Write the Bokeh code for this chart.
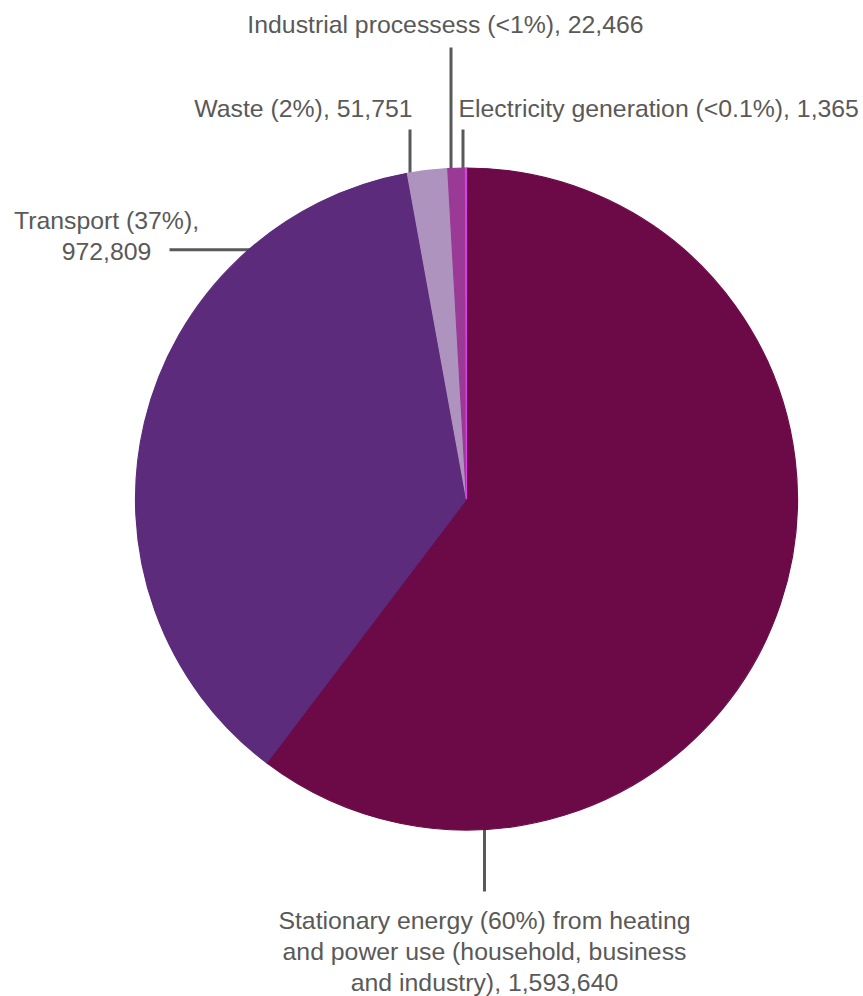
import numpy as np
from bokeh.plotting import figure
from bokeh.models import Range1d, Label, ColumnDataSource
from bokeh.embed import file_html
from bokeh.resources import INLINE

# ---- data ----
categories = ["Stationary energy", "Transport", "Waste", "Industrial processess", "Electricity generation"]
emissions = [1593640, 972809, 51751, 22466, 1365]
colors = ["#6C0A48", "#5C2B7B", "#AF93BF", "#9A3996", "#D842E2"]
label_lines = [
    ["Stationary energy (60%) from heating", "and power use (household, business", "and industry), 1,593,640"],
    ["Transport (37%),", "972,809"],
    ["Waste (2%), 51,751"],
    ["Industrial processess (<1%), 22,466"],
    ["Electricity generation (<0.1%), 1,365"],
]

# ---- layout (pixel coordinates, image space) ----
W, H = 863, 996
def X(xi): return xi
def Y(yi): return H - yi

TEXT_SHIFT = -9  # correct for renderer baseline placement
cx, cy, R = X(466), Y(498.5), 331
# label anchor: (x, first baseline y, align, line spacing)
label_pos = [
    (484, 929, "center", 31),
    (106, 229, "center", 31),
    (412, 117, "right", 31),
    (445, 33, "center", 31),
    (458, 117, "left", 31),
]
# leader lines: (x0, y0, x1, y1)
leaders = [
    (484, 820, 484, 891),
    (169, 249.3, 260, 249.3),
    (409.5, 129, 409.5, 180),
    (450.5, 47, 450.5, 180),
    (462.5, 129, 462.5, 180),
]

vals = np.array(emissions, dtype=float)
frac = vals / vals.sum()
cum = np.concatenate([[0.0], np.cumsum(frac)])
start = np.pi / 2 - cum[:-1] * 2 * np.pi
end = np.pi / 2 - cum[1:] * 2 * np.pi

p = figure(width=W, height=H, output_backend="svg", toolbar_location=None,
           x_range=Range1d(0, W), y_range=Range1d(0, H), min_border=0,
           outline_line_color=None)
p.axis.visible = False
p.grid.visible = False
p.background_fill_color = "white"
p.border_fill_color = "white"

# leader lines (drawn beneath the pie)
p.segment(x0=[X(l[0]) for l in leaders], y0=[Y(l[1]) for l in leaders],
          x1=[X(l[2]) for l in leaders], y1=[Y(l[3]) for l in leaders],
          line_color="#595959", line_width=3)

src = ColumnDataSource(dict(cat=categories, start=start, end=end, color=colors))
p.wedge(x=cx, y=cy, radius=R, start_angle="start", end_angle="end",
        direction="clock", fill_color="color", line_color="color", line_width=1.2,
        source=src)

for lines, (lx, ly, al, sp) in zip(label_lines, label_pos):
    for i, t in enumerate(lines):
        p.add_layout(Label(x=X(lx), y=Y(ly + TEXT_SHIFT + i * sp), text=t, text_align=al,
                           text_baseline="alphabetic", text_font="Liberation Sans",
                           text_font_size="24.8px", text_color="#595959"))

open("out.html", "w").write(file_html(p, INLINE))
